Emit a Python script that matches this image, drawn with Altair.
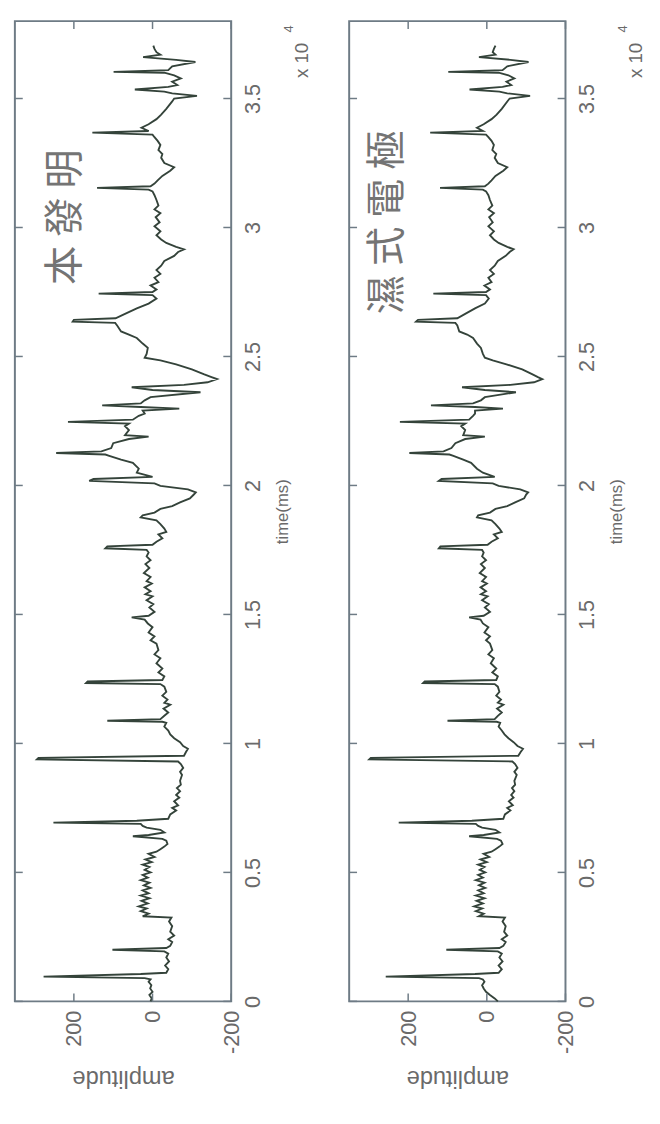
import altair as alt
import pandas as pd

# ---------------- data ----------------
TIME_DOMAIN = [0, 38000]
AMP_DOMAIN = [-200, 350]
TIME_TICKS = [0, 5000, 10000, 15000, 20000, 25000, 30000, 35000]
AMP_TICKS = [-200, 0, 200]

SIGNAL_1 = [
    (0, 5), (115, 2), (250, 8), (370, 0), (500, 6), (624, 3), (760, 10), (850, 5),
    (900, 20), (960, 277), (1060, 30), (1110, -35),
    (1250, -40), (1388, -32), (1550, -42), (1700, -35), (1850, -40),
    (1940, -30), (2000, 102), (2070, -35),
    (2150, -45), (2300, -50), (2407, -40), (2550, -55), (2700, -45), (2917, -50), (3100, -42), (3250, -48),
    (3300, 25), (3400, 10), (3500, 30), (3600, 15), (3680, 35), (3800, 12), (3900, 28), (4000, 8),
    (4100, 30), (4190, 10), (4300, 25), (4400, 5), (4500, 22), (4600, 8), (4700, 30), (4800, 12),
    (4900, 25), (5000, 5), (5100, 20), (5209, 8), (5300, 25), (5400, 2), (5500, 18), (5600, -5),
    (5719, 10), (5800, -10), (5900, -20),
    (6000, -30), (6100, -38), (6228, -35), (6300, -25), (6400, 50), (6450, 10), (6550, -30), (6650, -20),
    (6738, 15), (6800, 25),
    (6880, 30), (6930, 252), (7000, 40), (7080, -40),
    (7247, -45), (7400, -60), (7500, -50), (7600, -65), (7757, -55), (7900, -68), (8000, -60), (8150, -70),
    (8266, -62), (8400, -72), (8550, -70), (8776, -75), (8900, -70), (9050, -78), (9200, -72),
    (9300, -65), (9380, 294), (9440, 290), (9520, -80),
    (9667, -85), (9794, -90), (9900, -78), (10049, -70), (10200, -55), (10350, -45), (10500, -40),
    (10650, -30), (10800, -35),
    (10840, -25), (10878, 115), (10940, -20),
    (11069, -30), (11200, -40), (11350, -28), (11500, -45), (11577, -30), (11700, -38), (11850, -25),
    (12000, -35), (12200, -30),
    (12300, -20), (12342, 169), (12400, 165), (12460, -25),
    (12597, -30), (12750, -15), (12900, -25), (13106, -10), (13300, -20), (13450, -5), (13616, -15),
    (13870, -10),
    (13997, 5), (14150, -5), (14300, 10), (14506, 0), (14650, 12), (14800, 20), (14888, 53), (14950, 10),
    (15100, -5), (15270, 8), (15400, -2), (15550, 15), (15700, 0), (15781, 18), (15900, 5), (16050, 20),
    (16200, 2), (16289, 15), (16450, 5), (16600, 22), (16799, 8), (16950, 18), (17100, 5), (17250, 15),
    (17400, 10),
    (17500, 15), (17564, 120), (17640, 115), (17700, 0),
    (17819, -10), (17950, -25), (18100, -15), (18200, -35), (18329, -30), (18500, -20), (18650, -10),
    (18760, 30), (18838, 25), (18950, -5), (19092, -20), (19200, -50), (19347, -70), (19500, -95),
    (19650, -105), (19729, -110), (19850, -90), (19984, -20),
    (20080, -5), (20175, 161), (20250, 150), (20330, 0),
    (20494, 40), (20650, 35), (20876, 50), (21000, 80), (21150, 110),
    (21200, 120), (21258, 245), (21320, 130),
    (21450, 105), (21638, 100), (21800, 60), (21894, 10), (21950, 70), (22150, 60), (22300, 70),
    (22400, 60), (22467, 215), (22550, 50),
    (22700, 35), (22786, 20), (22900, 25), (22977, -68), (23040, 30), (23104, 128), (23180, 30),
    (23300, 20), (23423, 5), (23614, -122), (23700, 0), (23805, 53), (23900, -80), (24000, -140),
    (24123, -164), (24200, -150), (24314, -130), (24500, -100), (24696, -60), (24850, -20), (24951, 20),
    (25100, 15), (25333, 12), (25500, 25), (25716, 40), (25850, 60), (25970, 80), (26200, 90),
    (26300, 95), (26353, 203), (26420, 200), (26480, 94),
    (26650, 70), (26862, 40), (27050, 10),
    (27244, -10), (27380, 0), (27435, 137), (27500, 0),
    (27600, -10), (27750, 5), (27881, -15), (28050, -5), (28200, -20), (28350, -10), (28517, -22),
    (28700, -30), (28900, -55), (29050, -65), (29154, -80), (29250, -60), (29400, -35), (29536, -22),
    (29700, -10), (29850, -20), (30045, -5), (30200, -18), (30400, -8), (30555, -20), (30700, -5),
    (30850, -15), (31065, -10), (31250, -5), (31400, 0),
    (31470, 10), (31536, 141), (31600, 5),
    (31700, -5), (31829, -13), (32000, -25), (32200, -45), (32338, -55), (32500, -30), (32700, -22),
    (32848, -25), (33000, -15), (33200, -20), (33357, -13), (33500, -5), (33600, 0),
    (33676, 153), (33740, 10),
    (33867, 28), (34000, 10), (34200, -10), (34377, -22), (34600, -35), (34886, -50), (35000, -55),
    (35100, -113), (35200, -50), (35268, -30), (35350, 45), (35450, -40), (35522, -63), (35650, -50),
    (35777, -72), (35900, -55),
    (36000, -30), (36032, 99), (36100, -40),
    (36250, -50), (36414, -109), (36500, -60), (36605, 24), (36700, -20), (36796, -10), (36923, -5),
    (37050, -2),
]

SIGNAL_2 = [
    (0, -28), (115, -20), (250, -8), (370, 2), (500, 8), (624, 12), (760, 6), (850, 10),
    (900, 20), (960, 257), (1060, 30), (1110, -30),
    (1250, -38), (1388, -30), (1550, -40), (1700, -32), (1850, -38),
    (1940, -28), (2000, 103), (2070, -32),
    (2150, -42), (2300, -48), (2407, -38), (2550, -52), (2700, -44), (2917, -48), (3100, -40), (3250, -46),
    (3300, 20), (3400, 8), (3500, 28), (3600, 12), (3680, 32), (3800, 10), (3900, 26), (4000, 6),
    (4100, 28), (4190, 8), (4300, 22), (4400, 4), (4500, 20), (4600, 6), (4700, 28), (4800, 10),
    (4900, 22), (5000, 4), (5100, 18), (5209, 6), (5300, 22), (5400, 0), (5500, 16), (5600, -6),
    (5719, 8), (5800, -12), (5900, -22),
    (6000, -32), (6100, -40), (6228, -36), (6300, -26), (6400, 45), (6450, 8), (6550, -32), (6650, -22),
    (6738, 12), (6800, 22),
    (6880, 28), (6930, 224), (7000, 38), (7080, -42),
    (7247, -46), (7400, -60), (7500, -52), (7600, -66), (7757, -56), (7900, -68), (8000, -62), (8150, -70),
    (8266, -64), (8400, -72), (8550, -70), (8776, -76), (8900, -70), (9050, -78), (9200, -72),
    (9300, -65), (9380, 299), (9440, 295), (9520, -80),
    (9667, -86), (9794, -92), (9900, -78), (10049, -68), (10200, -55), (10350, -45), (10500, -38),
    (10650, -30), (10800, -34),
    (10840, -25), (10878, 100), (10940, -20),
    (11069, -28), (11200, -38), (11350, -26), (11500, -42), (11577, -28), (11700, -36), (11850, -24),
    (12000, -32), (12200, -28),
    (12300, -20), (12342, 162), (12400, 158), (12460, -24),
    (12597, -28), (12750, -14), (12900, -24), (13106, -10), (13300, -18), (13450, -4), (13616, -14),
    (13870, -8),
    (13997, 2), (14150, -8), (14300, 6), (14506, -4), (14650, 10), (14800, 16), (14888, 45), (14950, 8),
    (15100, -8), (15270, 5), (15400, -5), (15550, 12), (15700, -2), (15781, 15), (15900, 2), (16050, 16),
    (16200, 0), (16289, 12), (16450, 2), (16600, 18), (16799, 5), (16950, 15), (17100, 2), (17250, 12),
    (17400, 8),
    (17500, 12), (17564, 122), (17640, 118), (17700, -2),
    (17819, -12), (17950, -28), (18100, -18), (18200, -38), (18329, -32), (18500, -22), (18650, -12),
    (18760, 25), (18838, 22), (18950, -8), (19092, -22), (19200, -52), (19347, -72), (19500, -95),
    (19650, -100), (19729, -105), (19850, -85), (19984, -30),
    (20080, -15), (20175, 122), (20250, 115), (20330, -20),
    (20494, 10), (20650, 25), (20876, 40), (21000, 60), (21150, 85),
    (21200, 95), (21258, 197), (21320, 110),
    (21450, 90), (21638, 80), (21800, 55), (21894, 5), (21950, 60), (22150, 55), (22300, 65),
    (22400, 55), (22467, 221), (22550, 45),
    (22700, 35), (22786, 30), (22900, 30), (22977, -41), (23040, 30), (23104, 142), (23180, 35),
    (23300, 15), (23423, 5), (23614, -74), (23700, 5), (23805, 63), (23900, -60), (24000, -120),
    (24123, -141), (24200, -130), (24314, -115), (24500, -90), (24696, -50), (24850, -15), (24951, 5),
    (25100, 10), (25333, 15), (25500, 25), (25716, 35), (25850, 50), (25970, 70), (26200, 75),
    (26300, 80), (26353, 180), (26420, 175), (26480, 75),
    (26650, 55), (26862, 30), (27050, 5),
    (27244, -5), (27380, 2), (27435, 136), (27500, 2),
    (27600, -8), (27750, 6), (27881, -12), (28050, -4), (28200, -18), (28350, -8), (28517, -20),
    (28700, -28), (28900, -48), (29050, -58), (29154, -68), (29250, -52), (29400, -30), (29536, -18),
    (29700, -8), (29850, -18), (30045, -4), (30200, -15), (30400, -6), (30555, -18), (30700, -4),
    (30850, -14), (31065, -8), (31250, -4), (31400, 2),
    (31470, 10), (31536, 119), (31600, 5),
    (31700, -4), (31829, -12), (32000, -22), (32200, -42), (32338, -52), (32500, -28), (32700, -20),
    (32848, -24), (33000, -14), (33200, -18), (33357, -12), (33500, -4), (33600, 2),
    (33676, 144), (33740, 10),
    (33867, 25), (34000, 8), (34200, -12), (34377, -25), (34600, -38), (34886, -52), (35000, -58),
    (35100, -110), (35200, -52), (35268, -32), (35350, 44), (35450, -40), (35522, -62), (35650, -50),
    (35777, -70), (35900, -55),
    (36000, -30), (36032, 98), (36100, -40),
    (36250, -52), (36414, -106), (36500, -60), (36605, 20), (36700, -22), (36796, -15), (36923, -18),
    (37050, -22),
]

PANEL_LABELS = ["本 發 明", "濕 式 電 極"]
PANEL_LABEL_T = [30400, 30200]
PANEL_LABEL_AMP = [220, 250]

# ---------------- style ----------------
W, H = 220, 997
FRAME = "#6e7b85"
LINE = "#34433a"
TEXT = "#6a6a6a"
FONT = "Liberation Sans"


def panel(signal, label, lt, la):
    df = pd.DataFrame(signal, columns=["t", "amp"])
    xs = alt.Scale(domain=AMP_DOMAIN, reverse=True, nice=False, zero=False)
    ys = alt.Scale(domain=TIME_DOMAIN, nice=False, zero=False)

    xaxis = alt.Axis(
        values=AMP_TICKS, labelExpr="'' + datum.value", labelAngle=270,
        labelAlign="right", labelBaseline="middle", labelPadding=9,
        labelFontSize=22, labelColor=TEXT, labelFont=FONT,
        title="amplitude", titleAngle=180, titleBaseline="bottom",
        titleFontSize=24, titleFontWeight="normal", titleColor=TEXT, titleFont=FONT,
        titlePadding=12, domain=False, ticks=False, grid=False,
    )
    yaxis = alt.Axis(
        orient="right", values=TIME_TICKS, labelExpr="'' + (datum.value / 10000)",
        labelAngle=270, labelAlign="center", labelBaseline="top", labelPadding=12,
        labelFontSize=22, labelColor=TEXT, labelFont=FONT,
        title="time(ms)", titleAngle=270, titleBaseline="top",
        titleFontSize=17, titleFontWeight="normal", titleColor=TEXT, titleFont=FONT,
        titlePadding=11, domain=False, ticks=False, grid=False,
    )
    X = lambda: alt.X("amp:Q", scale=xs, axis=xaxis)
    Y = lambda: alt.Y("t:Q", scale=ys, axis=yaxis)

    line = alt.Chart(df).mark_line(color=LINE, strokeWidth=1.9).encode(
        x=X(), y=Y(), order="t:Q",
    )

    tdf = pd.DataFrame({"t": TIME_TICKS})
    adf = pd.DataFrame({"amp": AMP_TICKS})
    tk = dict(color=FRAME, strokeWidth=1.5)
    left_ticks = alt.Chart(tdf).mark_rule(**tk).encode(
        y=Y(), x=alt.value(0), x2=alt.value(8))
    right_ticks = alt.Chart(tdf).mark_rule(**tk).encode(
        y=Y(), x=alt.value(W - 8), x2=alt.value(W))
    top_ticks = alt.Chart(adf).mark_rule(**tk).encode(
        x=X(), y=alt.value(0), y2=alt.value(8))
    bottom_ticks = alt.Chart(adf).mark_rule(**tk).encode(
        x=X(), y=alt.value(H - 8), y2=alt.value(H))

    ldf = pd.DataFrame({"t": [lt], "amp": [la], "label": [label]})
    note = alt.Chart(ldf).mark_text(
        angle=270, fontSize=40, font="Noto Sans CJK TC", color="#747474",
        align="center", baseline="middle",
    ).encode(x=X(), y=Y(), text="label:N")

    exp_base = alt.Chart(pd.DataFrame({"s": ["x 10"]})).mark_text(
        angle=270, fontSize=19, font=FONT, color=TEXT, align="center", baseline="middle",
    ).encode(x=alt.value(W + 72), y=alt.value(40), text="s:N")
    exp_pow = alt.Chart(pd.DataFrame({"s": ["4"]})).mark_text(
        angle=270, fontSize=13, font=FONT, color=TEXT, align="center", baseline="middle",
    ).encode(x=alt.value(W + 59), y=alt.value(8), text="s:N")

    return alt.layer(
        line, left_ticks, right_ticks, top_ticks, bottom_ticks, note, exp_base, exp_pow
    ).properties(width=W, height=H)


p1 = panel(SIGNAL_1, PANEL_LABELS[0], PANEL_LABEL_T[0], PANEL_LABEL_AMP[0])
p2 = panel(SIGNAL_2, PANEL_LABELS[1], PANEL_LABEL_T[1], PANEL_LABEL_AMP[1])

chart = alt.hconcat(p1, p2, spacing=35).properties(
    padding={"left": 5, "top": 2, "right": 5, "bottom": 2},
    background="white",
).configure_view(stroke=FRAME, strokeWidth=2)

chart.save("out.html", embed_options={"renderer": "svg", "actions": False})
